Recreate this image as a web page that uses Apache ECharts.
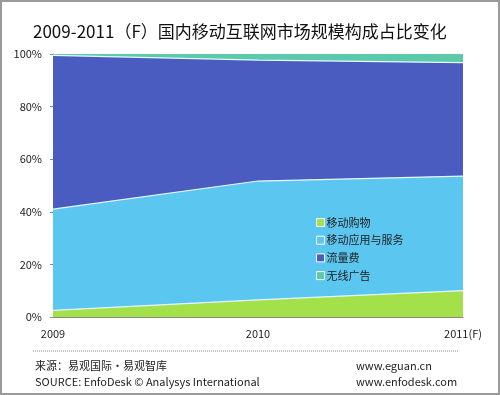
<!DOCTYPE html>
<html><head><meta charset="utf-8">
<script src="https://cdn.jsdelivr.net/npm/echarts@6/dist/echarts.min.js"></script>
<style>
html,body{margin:0;padding:0;background:#fff;}
#wrap{position:absolute;left:0;top:0;width:496px;height:391px;border:2px solid #9a9a9a;}
#c{position:absolute;left:-2px;top:-2px;width:500px;height:395px;}
</style></head>
<body><div id="wrap"><div id="c"></div></div>
<script>
var categories = ['2009', '2010', '2011(F)'];
var shopping = [2.5, 6.5, 10];
var appService = [38.5, 45.2, 43.6];
var traffic = [58.5, 46.0, 43.1];
var ads = [0.5, 2.3, 3.3];
var seriesNames = ['移动购物', '移动应用与服务', '流量费', '无线广告'];
var yTicks = [0, 20, 40, 60, 80, 100];

var colors = ['#a3e04a', '#5bc6ef', '#4a5cbf', '#5ccaaa'];
var dataSets = [shopping, appService, traffic, ads];
var font = '"Noto Sans CJK SC", "Noto Sans", sans-serif';

var chart = echarts.init(document.getElementById('c'));
chart.setOption({
  animation: false,
  title: {
    text: '2009-2011（F）国内移动互联网市场规模构成占比变化',
    left: 28, top: 18,
    textStyle: { fontSize: 17, fontWeight: 'normal', color: '#111', fontFamily: font }
  },
  legend: {
    orient: 'vertical', left: 311, top: 212,
    itemWidth: 8, itemHeight: 8, itemGap: 6.7,
    icon: 'rect',
    data: seriesNames,
    textStyle: { fontSize: 11, color: '#222', fontFamily: font, padding: [0, 0, 0, -3] },
    itemStyle: { borderColor: '#fff', borderWidth: 1 }
  },
  grid: { left: 53, right: 37, top: 54, bottom: 78 },
  xAxis: {
    type: 'category', boundaryGap: false, data: categories,
    axisLine: { lineStyle: { color: '#888' } },
    axisTick: { show: false },
    axisLabel: { color: '#222', fontSize: 11, fontFamily: font, margin: 11 }
  },
  yAxis: {
    type: 'value', min: 0, max: 100, interval: 20,
    axisLine: { show: true, lineStyle: { color: '#888' } },
    axisTick: { show: true, length: 3, lineStyle: { color: '#888' } },
    splitLine: { show: false },
    axisLabel: { color: '#222', fontSize: 11, fontFamily: font, margin: 11,
      formatter: function (v) { return yTicks.indexOf(v) >= 0 ? v + '%' : ''; } }
  },
  series: dataSets.map(function (d, i) {
    return {
      name: seriesNames[i], type: 'line', stack: 'total', data: d,
      symbol: 'none', smooth: false,
      itemStyle: { color: colors[i] },
      lineStyle: { color: i === 3 ? colors[i] : '#e6f7ff', width: i === 3 ? 0 : 1.2 },
      areaStyle: { color: colors[i], opacity: 1 }
    };
  }),
  graphic: [
    { type: 'line', shape: { x1: 33, y1: 351, x2: 458, y2: 351 },
      style: { stroke: '#888', lineWidth: 1, lineDash: [1, 1] } },
    { type: 'text', left: 35, top: 360,
      style: { text: '来源：易观国际·易观智库', fontSize: 11, fill: '#222', fontFamily: font } },
    { type: 'text', left: 35, top: 376,
      style: { text: 'SOURCE: EnfoDesk © Analysys International', fontSize: 11, fill: '#222', fontFamily: font } },
    { type: 'text', left: 356, top: 360,
      style: { text: 'www.eguan.cn', fontSize: 11, fill: '#222', fontFamily: font } },
    { type: 'text', left: 356, top: 376,
      style: { text: 'www.enfodesk.com', fontSize: 11, fill: '#222', fontFamily: font } }
  ]
});
</script></body></html>
